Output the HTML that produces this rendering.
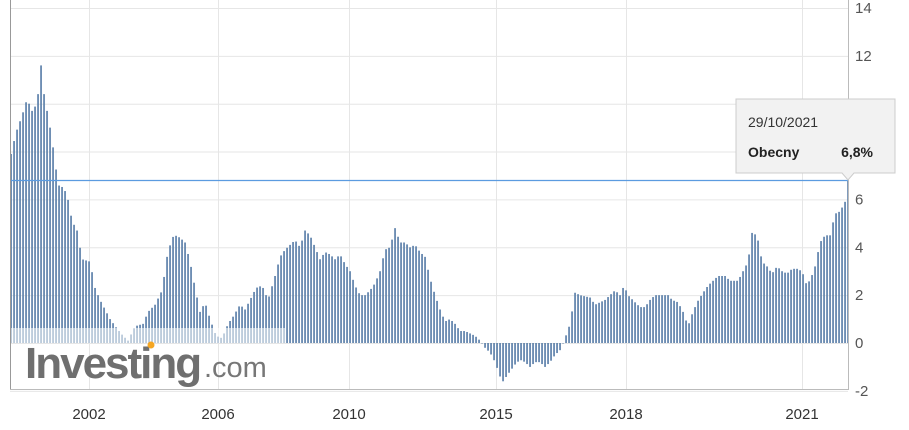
<!DOCTYPE html>
<html><head><meta charset="utf-8"><style>
body{margin:0;background:#fff;width:909px;height:430px;overflow:hidden;font-family:"Liberation Sans",Arial,sans-serif}
</style></head><body>
<svg id="s" width="909" height="430" xmlns="http://www.w3.org/2000/svg" style="position:absolute;left:0;top:0">
<g id="grid" stroke="#e6e6e6" stroke-width="1"></g>
<g id="bars" fill="#5e82ab"></g>
<rect x="11" y="328" width="274" height="15" fill="#fff" opacity="0.55"/>
<line x1="10" y1="180.5" x2="848" y2="180.5" stroke="#5b9be0" stroke-width="1.3"/>
<line x1="10.5" y1="0" x2="10.5" y2="390" stroke="#999" stroke-width="1"/>
<line x1="848.5" y1="0" x2="848.5" y2="390" stroke="#bbb" stroke-width="1"/>
<line x1="10" y1="389.5" x2="849" y2="389.5" stroke="#bbb" stroke-width="1"/>
<text x="25" y="378" font-size="44" font-weight="bold" fill="#6f6f6f" letter-spacing="-2">Investing</text>
<text x="204" y="377" font-size="29" fill="#777">.com</text>
<circle cx="151" cy="345" r="3.5" fill="#f5a623"/>
<g id="yl" font-size="15" fill="#555"></g>
<g id="xl" font-size="15" fill="#333" text-anchor="middle"></g>
<polygon points="736,99 895,99 895,173 854,173 848,180 842,173 736,173" fill="#f2f2f2" stroke="#ccc" stroke-width="1"/>
<text x="748" y="127" font-size="14" fill="#333">29/10/2021</text>
<text x="748" y="157" font-size="14" font-weight="bold" fill="#222">Obecny</text>
<text x="873" y="157" font-size="14" font-weight="bold" fill="#222" text-anchor="end">6,8%</text>
</svg>
<script>
var ns="http://www.w3.org/2000/svg";
function Y(v){return 343-v*23.93;}
function el(p,t,a,txt){var e=document.createElementNS(ns,t);for(var k in a)e.setAttribute(k,a[k]);if(txt)e.textContent=txt;document.getElementById(p).appendChild(e);}
[14,12,10,8,6,4,2,0,-2].forEach(function(v){var y=Y(v);el("grid","line",{x1:10,x2:848,y1:y+0.5,y2:y+0.5});
 el("yl","text",{x:855,y:y+5},""+v);});
[[89,"2002"],[218,"2006"],[349,"2010"],[496,"2015"],[626,"2018"],[802,"2021"]].forEach(function(a){
 el("grid","line",{x1:a[0]+0.5,x2:a[0]+0.5,y1:0,y2:390});el("xl","text",{x:a[0],y:419},a[1]);});
var k=[11,7.9,16,8.8,22,9.5,27,10.2,32,9.7,37,10.0,41,11.6,44,10.4,50,9.0,54,7.9,58,6.6,63,6.5,67,6.2,72,5.1,77,4.7,82,3.5,90,3.4,95,2.3,100,1.8,105,1.4,110,1.0,117,0.6,123,0.3,128,0.1,135,0.7,143,0.8,148,1.3,155,1.6,162,2.2,167,3.6,172,4.4,175,4.5,180,4.4,185,4.2,190,3.4,195,2.3,200,1.3,205,1.7,210,1.0,216,0.3,222,0.2,228,0.8,233,1.1,240,1.6,245,1.4,250,1.8,256,2.3,262,2.4,268,1.8,275,2.8,280,3.6,285,3.9,290,4.1,295,4.3,300,4.0,305,4.7,310,4.5,315,4.0,320,3.5,325,3.8,330,3.7,335,3.5,340,3.7,345,3.3,350,3.0,355,2.4,360,2.0,365,2.0,370,2.2,375,2.5,380,3.0,385,3.9,390,4.0,395,4.8,400,4.2,405,4.2,410,4.0,415,4.1,420,3.8,425,3.6,430,2.7,435,2.0,440,1.4,445,0.9,450,1.0,455,0.8,460,0.5,465,0.5,470,0.4,475,0.3,480,0.1,485,-0.2,490,-0.4,495,-0.8,500,-1.4,503,-1.6,508,-1.3,515,-0.9,520,-0.7,525,-0.8,530,-1.0,535,-0.8,540,-0.8,545,-1.0,550,-0.8,555,-0.5,560,-0.3,565,0.2,570,0.8,575,2.1,580,2.0,590,1.9,595,1.6,600,1.7,605,1.8,610,2.0,615,2.2,620,2.0,624,2.4,628,2.0,635,1.7,640,1.5,645,1.5,650,1.8,655,2.0,660,2.0,668,2.0,672,1.8,678,1.7,683,1.3,688,0.7,692,1.2,697,1.7,703,2.1,708,2.4,713,2.6,718,2.8,725,2.8,730,2.6,738,2.6,748,3.4,752,4.6,757,4.5,762,3.4,767,3.2,772,2.9,777,3.2,782,3.0,787,2.9,792,3.1,797,3.1,802,3.0,806,2.5,810,2.6,815,3.2,820,4.2,825,4.5,830,4.5,835,5.4,840,5.5,845,5.9,848,6.8];
function val(x){for(var i=0;i<k.length-2;i+=2){if(x<=k[i+2]){var t=(x-k[i])/(k[i+2]-k[i]);return k[i+1]+t*(k[i+3]-k[i+1]);}}return k[k.length-1];}
for(var x=11;x<=848;x+=3){var v=val(x);var y=Y(v);
 el("bars","rect",{x:x-0.8,y:Math.min(y,343),width:1.7,height:Math.max(Math.abs(343-y),0.5)});}
</script>
</body></html>
